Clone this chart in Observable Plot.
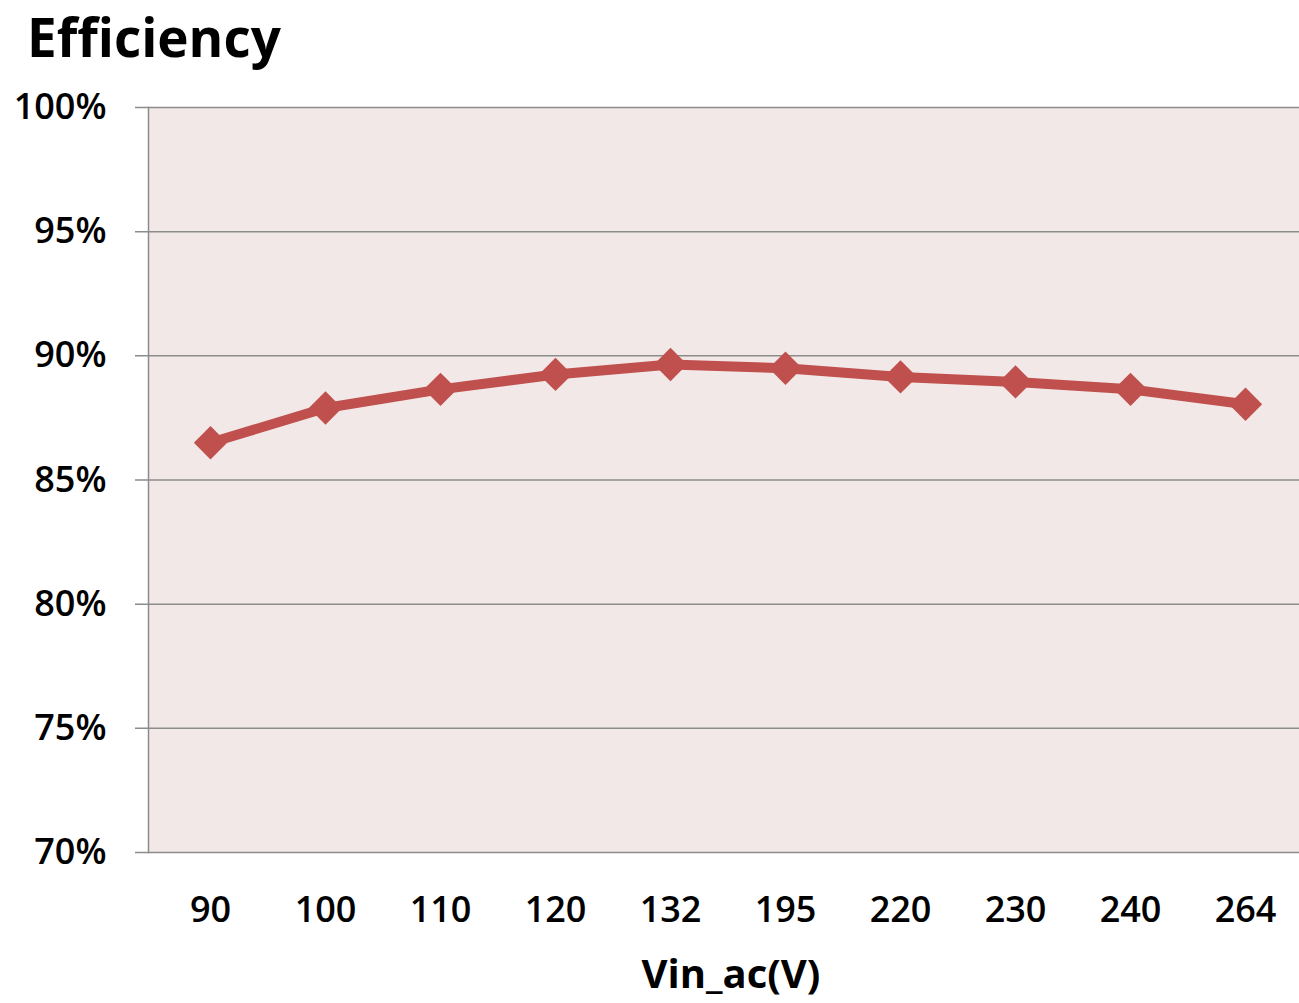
<!DOCTYPE html>
<html>
<head>
<meta charset="utf-8">
<script src="https://cdn.jsdelivr.net/npm/d3@7"></script>
<script src="https://cdn.jsdelivr.net/npm/@observablehq/plot@0.6"></script>
<style>
  body { margin: 0; background: #fff; }
  #title { font-family: "Open Sans", sans-serif; font-weight: 700; font-size: 53px; line-height: normal; height: 80px; padding-left: 27px; color: #000; box-sizing: border-box; }
  #chart svg { display: block; }
</style>
</head>
<body>
<div id="title">Efficiency</div>
<div id="chart"></div>
<script>
const categories = ["90", "100", "110", "120", "132", "195", "220", "230", "240", "264"];
const efficiency = [0.865, 0.879, 0.8865, 0.8925, 0.8965, 0.895, 0.8915, 0.8895, 0.8865, 0.8805];
const yTicks = [0.70, 0.75, 0.80, 0.85, 0.90, 0.95, 1.00];
const xLabel = "Vin_ac(V)";

const data = categories.map((c, i) => ({ v: c, e: efficiency[i] }));

const chart = Plot.plot({
  width: 1299,
  height: 923,
  marginLeft: 148,
  marginRight: 0,
  marginTop: 27,
  marginBottom: 151,
  style: { fontFamily: "Open Sans, sans-serif", fontSize: "35px", fontWeight: 600, color: "#000", background: "white" },
  x: { type: "point", domain: categories, range: [206, 1248], padding: 0 },
  y: { domain: [0.70, 1.00] },
  marks: [
    Plot.frame({ fill: "#f2e8e8", stroke: null }),
    Plot.ruleY(yTicks, { stroke: "#8c8c8c", strokeWidth: 1.5, insetLeft: -13 }),
    Plot.frame({ anchor: "left", stroke: "#8c8c8c", strokeWidth: 1.5 }),
    Plot.axisY({ ticks: yTicks, tickSize: 0, tickPadding: 42, tickFormat: d3.format(".0%"), label: null, fontSize: 36 }),
    Plot.axisX({ tickSize: 0, tickPadding: 44, label: null, fontSize: 36 }),
    Plot.text([xLabel], { frameAnchor: "bottom", dy: 135, dx: 7, fontSize: 40, fontWeight: 700, fill: "#000" }),
    Plot.line(data, { x: "v", y: "e", stroke: "#c0504d", strokeWidth: 10 }),
    Plot.dot(data, { x: "v", y: "e", symbol: "diamond2", r: 15, fill: "#c0504d", stroke: null })
  ]
});
document.getElementById("chart").appendChild(chart);
</script>
</body>
</html>
